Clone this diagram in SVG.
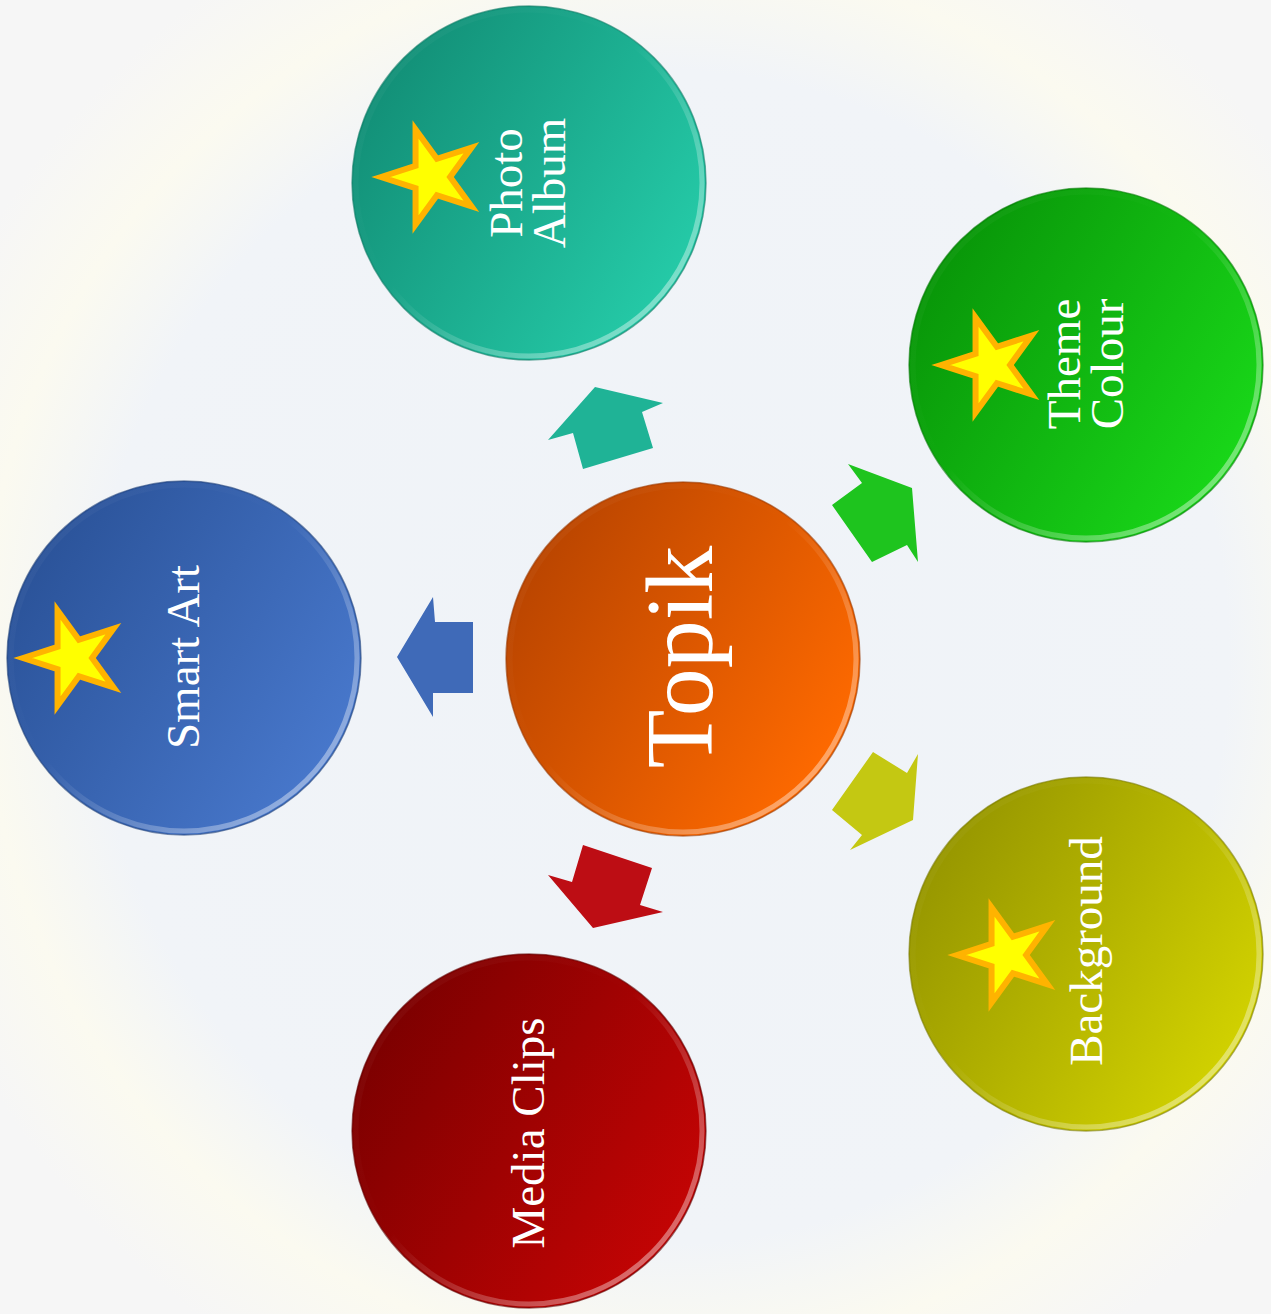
<svg xmlns="http://www.w3.org/2000/svg" xmlns:xlink="http://www.w3.org/1999/xlink" width="1271" height="1314" viewBox="0 0 1271 1314">
<defs>
<style>
.lbl{font-family:"Liberation Serif","Times New Roman",serif;font-size:47px;fill:#ffffff;text-anchor:middle}
.big{font-size:96px}
.rim{fill:none;stroke:url(#rimG);stroke-width:5}
.edge{fill:none;stroke-width:1.5;stroke-opacity:0.6}
.star{fill:#ffff00;stroke:#ffb300;stroke-width:6;stroke-linejoin:miter;stroke-miterlimit:12}
.arr{stroke:none}
</style>
<linearGradient id="rimG" x1="0" y1="0" x2="1" y2="1">
<stop offset="0" stop-color="#ffffff" stop-opacity="0.05"/>
<stop offset="0.45" stop-color="#ffffff" stop-opacity="0.0"/>
<stop offset="1" stop-color="#ffffff" stop-opacity="0.55"/>
</linearGradient>
<linearGradient id="gTeal" x1="0.05" y1="0.2" x2="0.95" y2="0.75">
<stop offset="0" stop-color="#128e76"/><stop offset="1" stop-color="#25cba8"/>
</linearGradient>
<linearGradient id="gGreen" x1="0.05" y1="0.2" x2="0.95" y2="0.75">
<stop offset="0" stop-color="#089408"/><stop offset="1" stop-color="#19d819"/>
</linearGradient>
<linearGradient id="gBlue" x1="0.05" y1="0.2" x2="0.95" y2="0.75">
<stop offset="0" stop-color="#2a5298"/><stop offset="1" stop-color="#4878cc"/>
</linearGradient>
<linearGradient id="gOrange" x1="0.05" y1="0.2" x2="0.95" y2="0.75">
<stop offset="0" stop-color="#b84400"/><stop offset="1" stop-color="#ff6a00"/>
</linearGradient>
<linearGradient id="gOlive" x1="0.05" y1="0.2" x2="0.95" y2="0.75">
<stop offset="0" stop-color="#959500"/><stop offset="1" stop-color="#d2d200"/>
</linearGradient>
<linearGradient id="gRed" x1="0.05" y1="0.2" x2="0.95" y2="0.75">
<stop offset="0" stop-color="#7a0000"/><stop offset="1" stop-color="#c40404"/>
</linearGradient>
<radialGradient id="bgG" cx="0.52" cy="0.5" r="0.62">
<stop offset="0" stop-color="#eff3f8"/>
<stop offset="0.72" stop-color="#f1f4f8"/>
<stop offset="0.86" stop-color="#fbfaf0"/>
<stop offset="1" stop-color="#f6f6f6"/>
</radialGradient>
<path id="starShape" d="M-50,0 L-15.45,-11.23 L-15.45,-47.55 L5.9,-18.17 L40.45,-29.39 L19.1,0 L40.45,29.39 L5.9,18.17 L-15.45,47.55 L-15.45,11.23 Z"/>
</defs>

<rect x="0" y="0" width="1271" height="1314" fill="url(#bgG)"/>

<g id="connectors">
<polygon class="arr" fill="#1fb396" points="595,387 663,403 642,412 653,448 583,469 573,433 548,440"/>
<polygon class="arr" fill="#1ec41e" points="848,464 912,488 918,562 907,545 872,562 832,505 862,483"/>
<polygon class="arr" fill="#3f6ab8" points="397,657 433,597 435,622 473,622 473,693 433,693 433,717"/>
<polygon class="arr" fill="#c4c812" points="873,752 907,773 918,754 913,820 850,850 862,835 832,810"/>
<polygon class="arr" fill="#bd0d14" points="548,875 572,882 583,845 652,868 640,905 663,912 593,928"/>
</g>

<g id="node-photo-album">
<circle cx="529" cy="183" r="177" fill="url(#gTeal)"/>
<circle cx="529" cy="183" r="173" class="rim"/>
<circle cx="529" cy="183" r="177" class="edge" stroke="#0e7a64"/>
<use xlink:href="#starShape" class="star" transform="translate(431,177)"/>
<text class="lbl" transform="translate(522,183) rotate(-90)">Photo</text>
<text class="lbl" transform="translate(565,183) rotate(-90)">Album</text>
</g>

<g id="node-theme-colour">
<circle cx="1086" cy="365" r="177" fill="url(#gGreen)"/>
<circle cx="1086" cy="365" r="173" class="rim"/>
<circle cx="1086" cy="365" r="177" class="edge" stroke="#077a07"/>
<use xlink:href="#starShape" class="star" transform="translate(991,365)"/>
<text class="lbl" transform="translate(1080,364) rotate(-90)">Theme</text>
<text class="lbl" transform="translate(1123,364) rotate(-90)">Colour</text>
</g>

<g id="node-smart-art">
<circle cx="184" cy="658" r="177" fill="url(#gBlue)"/>
<circle cx="184" cy="658" r="173" class="rim"/>
<circle cx="184" cy="658" r="177" class="edge" stroke="#1e3f78"/>
<use xlink:href="#starShape" class="star" transform="translate(73,658)"/>
<text class="lbl" transform="translate(199,657) rotate(-90)">Smart Art</text>
</g>

<g id="node-topik">
<circle cx="683" cy="659" r="177" fill="url(#gOrange)"/>
<circle cx="683" cy="659" r="173" class="rim"/>
<circle cx="683" cy="659" r="177" class="edge" stroke="#9a3800"/>
<text class="lbl big" transform="translate(712,657) rotate(-90)">Topik</text>
</g>

<g id="node-background">
<circle cx="1086" cy="954" r="177" fill="url(#gOlive)"/>
<circle cx="1086" cy="954" r="173" class="rim"/>
<circle cx="1086" cy="954" r="177" class="edge" stroke="#7a7a00"/>
<use xlink:href="#starShape" class="star" transform="translate(1007,955)"/>
<text class="lbl" transform="translate(1102,951) rotate(-90)">Background</text>
</g>

<g id="node-media-clips">
<circle cx="529" cy="1131" r="177" fill="url(#gRed)"/>
<circle cx="529" cy="1131" r="173" class="rim"/>
<circle cx="529" cy="1131" r="177" class="edge" stroke="#600000"/>
<text class="lbl" transform="translate(544,1133) rotate(-90)">Media Clips</text>
</g>
</svg>
